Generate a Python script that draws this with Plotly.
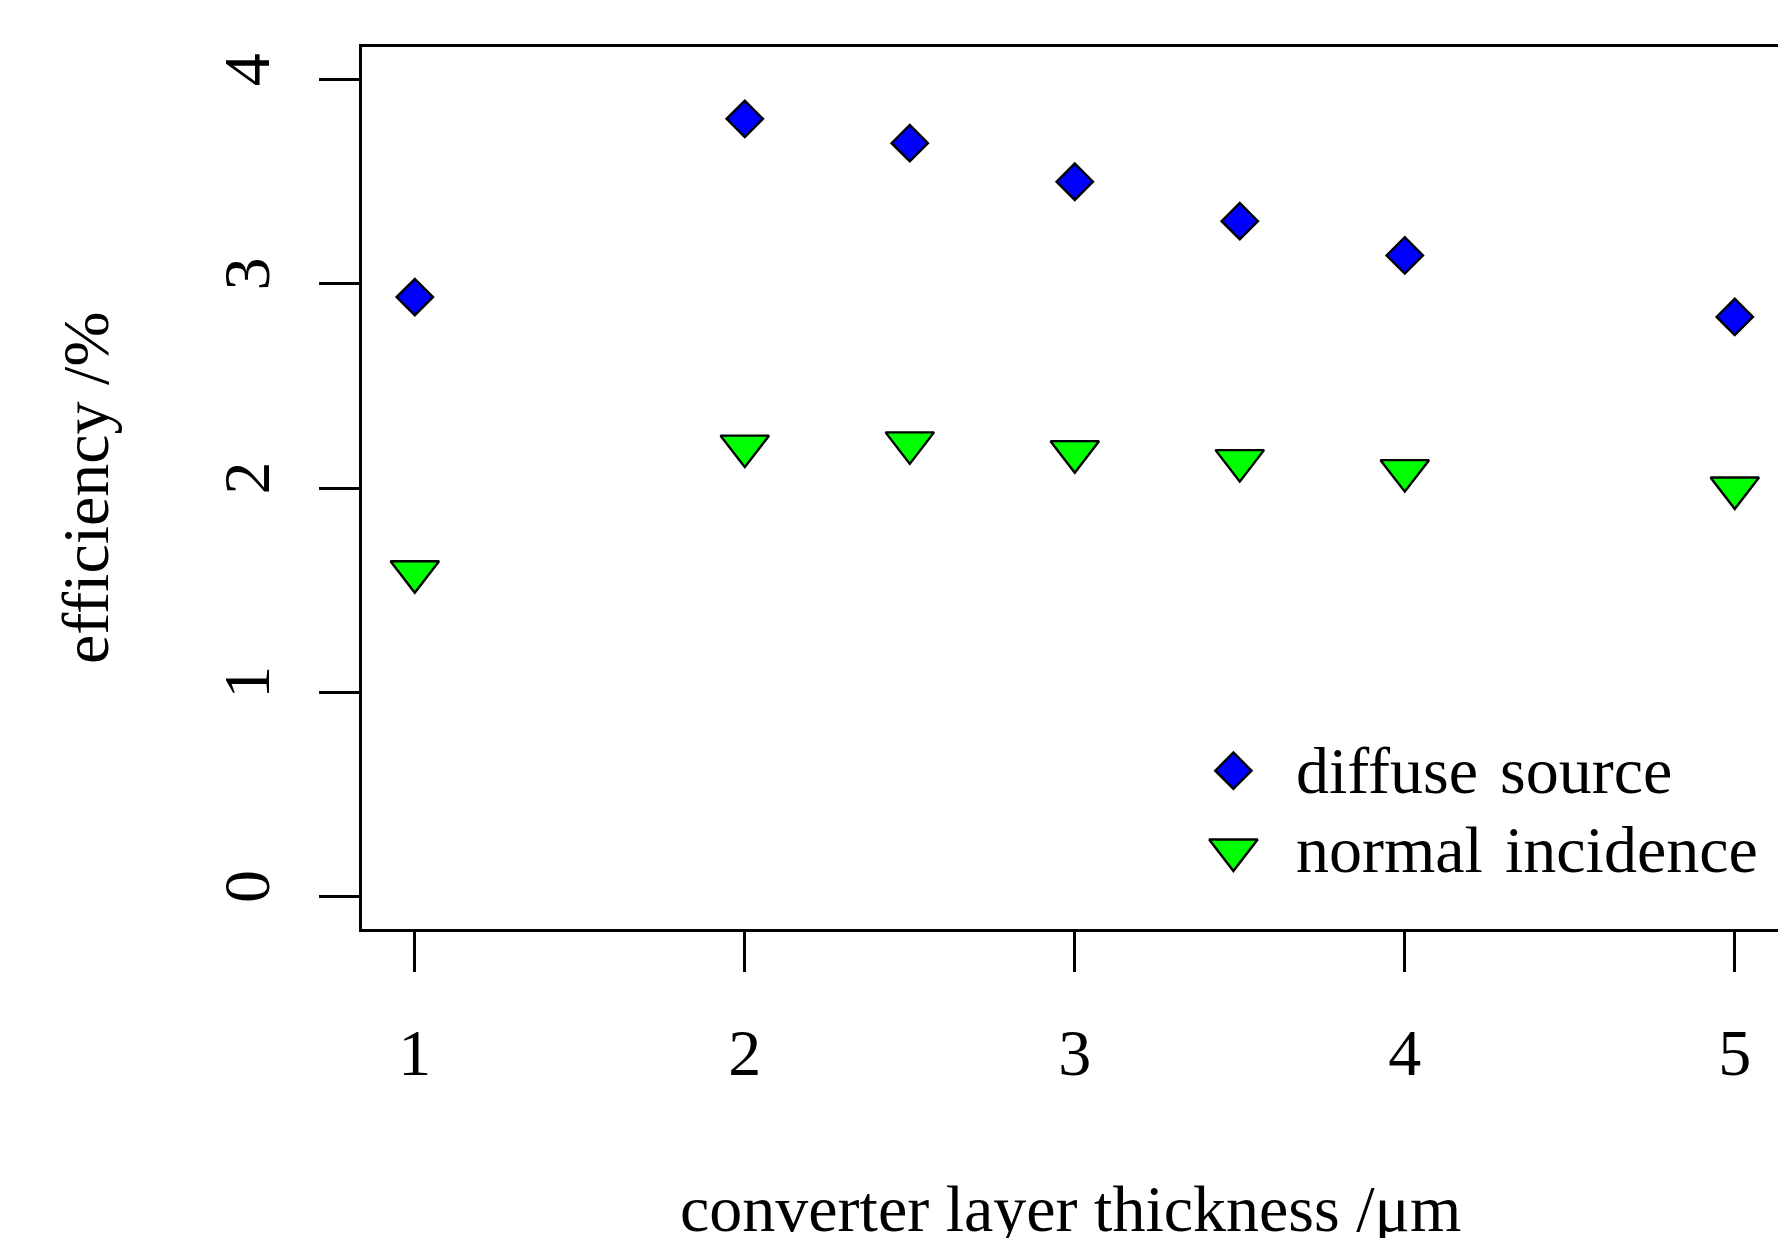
import plotly.graph_objects as go

# ---- data ----
thickness = [1, 2, 2.5, 3, 3.5, 4, 5]
diffuse_source = [2.935, 3.808, 3.689, 3.500, 3.307, 3.139, 2.838]
normal_incidence = [1.590, 2.205, 2.221, 2.178, 2.134, 2.085, 2.000]
x_ticks = [1, 2, 3, 4, 5]
y_ticks = [0, 1, 2, 3, 4]
legend_labels = ["diffuse source", "normal incidence"]

FONT = "Liberation Serif"
FS = 66
LW = 2.6

fig = go.Figure()
fig.add_trace(go.Scatter(
    x=thickness, y=diffuse_source, mode="markers", name=legend_labels[0],
    marker=dict(symbol="diamond", size=28, color="#0000FF",
                line=dict(color="black", width=2.4)),
    cliponaxis=False))
fig.add_trace(go.Scatter(
    x=thickness, y=normal_incidence, mode="markers", name=legend_labels[1],
    marker=dict(symbol="triangle-down", size=42, color="#00FF00",
                line=dict(color="black", width=2.4)),
    cliponaxis=False))

# legend keys on a hidden overlay axis (0..1 box coordinates)
leg_x = 0.6154
leg_y = [0.1795, 0.0896]
fig.add_trace(go.Scatter(
    x=[leg_x], y=[leg_y[0]], xaxis="x2", yaxis="y2", mode="markers",
    marker=dict(symbol="diamond", size=28, color="#0000FF",
                line=dict(color="black", width=2.4)), cliponaxis=False))
fig.add_trace(go.Scatter(
    x=[leg_x], y=[leg_y[1]], xaxis="x2", yaxis="y2", mode="markers",
    marker=dict(symbol="triangle-down", size=42, color="#00FF00",
                line=dict(color="black", width=2.4)), cliponaxis=False))

annotations = []
for lab, ly in zip(legend_labels, leg_y):
    annotations.append(dict(text=lab.replace(" ", "\u2004"), xref="paper", yref="paper",
                            x=0.6579, y=ly,
                            xanchor="left", yanchor="middle", showarrow=False,
                            font=dict(family=FONT, size=FS, color="black")))
annotations.append(dict(text="converter layer thickness /\u03bcm", xref="paper", yref="paper",
                        x=0.5, y=0, xanchor="center", yanchor="middle", yshift=-279,
                        showarrow=False, font=dict(family=FONT, size=FS, color="black")))
annotations.append(dict(text="efficiency /%", xref="paper", yref="paper",
                        x=0, y=0.5, xanchor="center", yanchor="middle", xshift=-277,
                        textangle=-90, showarrow=False,
                        font=dict(family=FONT, size=FS, color="black")))

fig.update_layout(
    width=1778, height=1238,
    margin=dict(l=362, r=0, t=47, b=309),
    paper_bgcolor="white", plot_bgcolor="white",
    showlegend=False,
    font=dict(family=FONT, size=FS, color="black"),
    annotations=annotations,
    xaxis=dict(range=[0.84, 5.131], tickvals=x_ticks, ticktext=[str(v) for v in x_ticks],
               showgrid=False, zeroline=False, showline=True, linecolor="black",
               linewidth=LW, mirror=True, ticks="outside", ticklen=40, tickwidth=LW,
               tickcolor="black", ticklabelstandoff=24,
               tickfont=dict(family=FONT, size=FS, color="black")),
    yaxis=dict(range=[-0.16, 4.16], tickvals=y_ticks, ticktext=[str(v) for v in y_ticks],
               showgrid=False, zeroline=False, showline=True, linecolor="black",
               linewidth=LW, mirror=False, ticks="outside", ticklen=40, tickwidth=LW,
               tickcolor="black", tickangle=-90, ticklabelstandoff=24,
               tickfont=dict(family=FONT, size=FS, color="black")),
    xaxis2=dict(range=[0, 1], overlaying="x", anchor="y2", visible=False),
    yaxis2=dict(range=[0, 1], overlaying="y", anchor="x2", visible=False),
)

fig.write_html("out.html")
